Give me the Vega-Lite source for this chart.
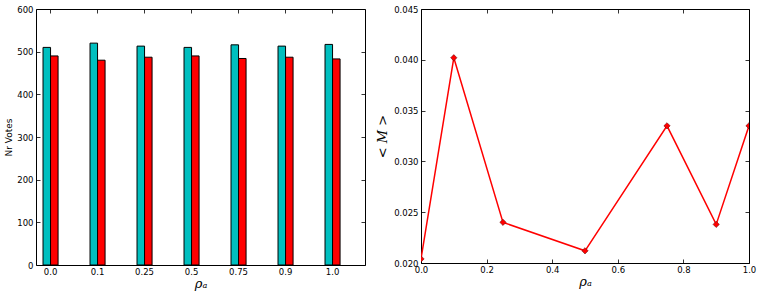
{
  "$schema": "https://vega.github.io/schema/vega-lite/v6.json",
  "autosize": {"type": "pad"},
  "padding": {"left": 4, "top": 4, "right": 5, "bottom": 5},
  "spacing": 56,
  "bounds": "flush",
  "config": {
    "font": "DejaVu Sans",
    "view": {"stroke": "black", "strokeWidth": 1},
    "axis": {
      "domain": false,
      "grid": false,
      "tickColor": "black",
      "tickSize": -4,
      "tickWidth": 0.8,
      "labelFontSize": 8.5,
      "labelColor": "black",
      "labelFont": "DejaVu Sans",
      "labelFlush": false,
      "labelOverlap": false,
      "titleColor": "black",
      "titleFontWeight": "normal"
    },
    "axisX": {"labelPadding": 6},
    "axisY": {"labelPadding": 7}
  },
  "hconcat": [
    {
      "width": 329,
      "height": 256,
      "data": {
        "values": [
          {"rho": "0.0", "party": "A", "votes": 510},
          {"rho": "0.0", "party": "B", "votes": 490},
          {"rho": "0.1", "party": "A", "votes": 520},
          {"rho": "0.1", "party": "B", "votes": 480},
          {"rho": "0.25", "party": "A", "votes": 513},
          {"rho": "0.25", "party": "B", "votes": 487},
          {"rho": "0.5", "party": "A", "votes": 510},
          {"rho": "0.5", "party": "B", "votes": 490},
          {"rho": "0.75", "party": "A", "votes": 516},
          {"rho": "0.75", "party": "B", "votes": 484},
          {"rho": "0.9", "party": "A", "votes": 513},
          {"rho": "0.9", "party": "B", "votes": 487},
          {"rho": "1.0", "party": "A", "votes": 517},
          {"rho": "1.0", "party": "B", "votes": 483}
        ]
      },
      "layer": [
        {
          "mark": {"type": "bar", "stroke": "black", "strokeWidth": 1},
          "encoding": {
            "x": {
              "field": "rho", "type": "nominal", "sort": null,
              "scale": {"paddingInner": 0.68, "paddingOuter": 0.34, "align": 0.22},
              "axis": {"title": "ρₐ", "labelAngle": 0, "titleFont": "DejaVu Serif", "titleFontStyle": "italic", "titleFontSize": 13, "titlePadding": 2}
            },
            "xOffset": {"field": "party", "type": "nominal", "sort": null, "scale": {"paddingInner": 0, "paddingOuter": 0}},
            "y": {
              "field": "votes", "type": "quantitative",
              "scale": {"domain": [0, 600], "nice": false},
              "axis": {"title": "Nr Votes", "values": [0, 100, 200, 300, 400, 500, 600], "titleFontSize": 9, "titlePadding": 3}
            },
            "color": {"field": "party", "type": "nominal", "scale": {"domain": ["A", "B"], "range": ["#00BFBF", "#FF0000"]}, "legend": null}
          }
        },
        {
          "mark": {"type": "bar", "opacity": 0},
          "encoding": {
            "x": {"field": "rho", "type": "nominal", "sort": null, "axis": {"orient": "top", "labels": false, "title": null}},
            "xOffset": {"field": "party", "type": "nominal", "sort": null},
            "y": {"field": "votes", "type": "quantitative", "axis": {"orient": "right", "labels": false, "title": null, "values": [0, 100, 200, 300, 400, 500, 600]}}
          }
        }
      ],
      "resolve": {"axis": {"x": "independent", "y": "independent"}}
    },
    {
      "width": 328,
      "height": 254,
      "data": {
        "values": [
          {"rho": 0.0, "m": 0.0204},
          {"rho": 0.1, "m": 0.0402},
          {"rho": 0.25, "m": 0.0240},
          {"rho": 0.5, "m": 0.0212},
          {"rho": 0.75, "m": 0.0335},
          {"rho": 0.9, "m": 0.0238},
          {"rho": 1.0, "m": 0.0335}
        ]
      },
      "layer": [
        {
          "mark": {"type": "line", "color": "#FF0000", "strokeWidth": 1.5, "clip": true},
          "encoding": {
            "x": {
              "field": "rho", "type": "quantitative",
              "scale": {"domain": [0, 1], "nice": false, "zero": false},
              "axis": {"title": "ρₐ", "values": [0, 0.2, 0.4, 0.6, 0.8, 1.0], "format": ".1f", "titleFont": "DejaVu Serif", "titleFontStyle": "italic", "titleFontSize": 13, "titlePadding": 2}
            },
            "y": {
              "field": "m", "type": "quantitative",
              "scale": {"domain": [0.02, 0.045], "nice": false, "zero": false},
              "axis": {"title": "< M >", "values": [0.02, 0.025, 0.03, 0.035, 0.04, 0.045], "format": ".3f", "titleFont": "DejaVu Serif", "titleFontStyle": "italic", "titleFontSize": 13, "titlePadding": 4}
            }
          }
        },
        {
          "mark": {"type": "point", "shape": "diamond", "filled": true, "fill": "#FF0000", "stroke": "#550000", "strokeWidth": 0.5, "size": 40, "opacity": 1, "clip": true},
          "encoding": {
            "x": {"field": "rho", "type": "quantitative", "axis": {"orient": "top", "labels": false, "title": null, "values": [0, 0.2, 0.4, 0.6, 0.8, 1.0]}},
            "y": {"field": "m", "type": "quantitative", "axis": {"orient": "right", "labels": false, "title": null, "values": [0.02, 0.025, 0.03, 0.035, 0.04, 0.045]}}
          }
        }
      ],
      "resolve": {"axis": {"x": "independent", "y": "independent"}}
    }
  ]
}
